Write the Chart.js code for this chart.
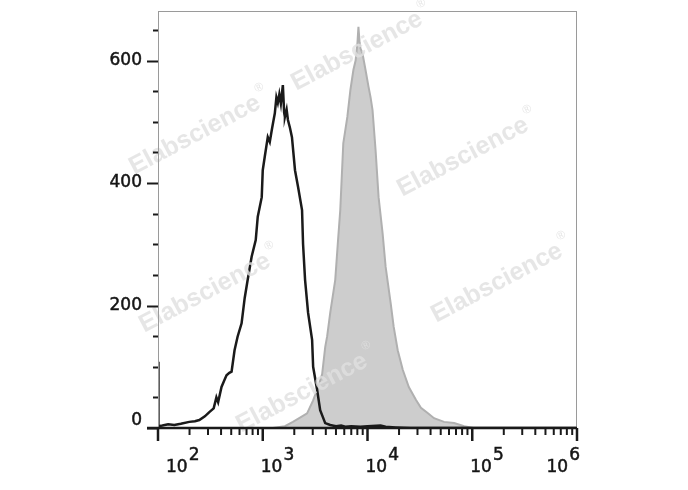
<!DOCTYPE html>
<html>
<head>
<meta charset="utf-8">
<script src="https://cdn.jsdelivr.net/npm/chart.js@4/dist/chart.umd.min.js"></script>
<style>
    html, body { margin: 0; padding: 0; background: #fff; }
    #wrap { width: 688px; height: 490px; position: relative; }
</style>
</head>
<body>
<div id="wrap"><canvas id="histChart" width="688" height="490"></canvas></div>
<script>
// control (unstained) histogram - black line
const ctrlX = [100, 101, 110, 125, 143, 165, 199, 225, 248, 280, 309, 340, 361, 375, 404, 430, 451, 480, 504,
    538, 575, 628, 672, 718, 784, 857, 896, 978, 1000, 1045, 1117, 1167, 1221, 1260, 1304, 1350, 1393, 1440,
    1489, 1556, 1600, 1628, 1690, 1740, 1820, 1900, 2032, 2172, 2372, 2426, 2535, 2710, 2959, 3027, 3306,
    3534, 3946, 4406, 5000, 5600, 6139, 7000, 8564, 10000, 13335, 14900, 18600, 25900, 1000000];
const ctrlY = [108, 3, 4, 6, 5, 7, 10, 11, 13, 19, 26, 32, 50, 42, 67, 78, 86, 90, 92,
    127, 149, 171, 212, 242, 280, 307, 345, 377, 421, 443, 475, 467, 487, 500, 514, 540, 531, 545,
    530, 560, 515, 508, 520, 503, 490, 475, 421, 394, 356, 300, 242, 188, 144, 100, 62,
    29, 8, 5, 3, 4, 2, 3, 2, 3, 4, 2, 1, 0, 0];

// stained histogram - grey filled
const stainX = [1247, 1628, 1941, 2270, 2650, 3027, 3381, 3690, 3946, 4121, 4406, 4921, 5200, 5496, 5873,
    6420, 6866, 7339, 7700, 8020, 8194, 8400, 8564, 8951, 9568, 10230, 10700, 11170, 11940, 12760, 13940,
    14900, 16640, 17790, 19430, 21710, 24790, 28970, 32370, 37790, 43150, 53810, 67140, 83760, 102300];
const stainY = [0, 3, 10, 17, 24, 45, 67, 88, 132, 150, 188, 242, 300, 356, 465,
    508, 552, 585, 600, 629, 655, 630, 620, 612, 585, 557, 540, 519, 454, 377, 318,
    263, 204, 165, 127, 95, 67, 46, 33, 24, 16, 10, 8, 3, 0];

const yMajor = [0, 200, 400, 600];
const xDecades = [2, 3, 4, 5, 6];

const watermarks = [[357, 51], [195, 135], [463, 157], [205, 293], [497, 283], [302, 393]];

const toPts = (xs, ys) => xs.map((v, i) => ({ x: v, y: ys[i] }));

// draws text a bit heavier, like the scanned labels
function boldText(ctx, txt, x, y) {
    ctx.fillText(txt, x, y);
    ctx.strokeText(txt, x, y);
}

const axesPlugin = {
    id: 'flowAxes',
    afterDatasetsDraw(chart) {
        const { ctx } = chart;
        // watermarks
        ctx.save();
        ctx.fillStyle = 'rgba(224,224,224,0.8)';
        watermarks.forEach(([cx, cy]) => {
            ctx.save();
            ctx.translate(cx, cy);
            ctx.rotate(-0.485);
            ctx.font = 'bold 25px "Liberation Sans", Arial, sans-serif';
            ctx.textBaseline = 'middle';
            const w = ctx.measureText('Elabscience').width;
            ctx.fillText('Elabscience', -w / 2, 0);
            ctx.font = '12px "Liberation Sans", Arial, sans-serif';
            ctx.fillText('®', w / 2 + 2, -12);
            ctx.restore();
        });
        ctx.restore();
    },
    afterDraw(chart) {
        const { ctx, chartArea: a, scales: { x, y } } = chart;
        ctx.save();
        // frame
        ctx.strokeStyle = '#9a9a9a';
        ctx.lineWidth = 1;
        ctx.strokeRect(a.left + 0.5, a.top + 0.5, a.right - a.left - 1, a.bottom - a.top);

        // bottom axis
        ctx.strokeStyle = '#1a1a1a';
        ctx.lineWidth = 2.5;
        ctx.beginPath();
        ctx.moveTo(a.left - 11, a.bottom);
        ctx.lineTo(a.right, a.bottom);
        ctx.stroke();

        // y ticks
        ctx.lineWidth = 2;
        for (let v = 0; v <= 650; v += 50) {
            const py = Math.round(y.getPixelForValue(v)) + 0.5;
            const len = v % 200 === 0 ? 11 : 5;
            ctx.beginPath();
            ctx.moveTo(a.left - len, py);
            ctx.lineTo(a.left, py);
            ctx.stroke();
        }
        ctx.fillStyle = '#151515';
        ctx.strokeStyle = '#151515';
        ctx.lineWidth = 0.5;
        ctx.font = '17px "DejaVu Sans", sans-serif';
        ctx.textAlign = 'right';
        ctx.textBaseline = 'middle';
        yMajor.forEach(v => {
            const py = y.getPixelForValue(v) - (v === 0 ? 7 : 0);
            boldText(ctx, String(v), a.left - 16, py);
        });

        // x ticks (log decades + minors)
        ctx.strokeStyle = '#1a1a1a';
        xDecades.forEach(d => {
            const px = x.getPixelForValue(Math.pow(10, d));
            ctx.lineWidth = 2.5;
            ctx.beginPath();
            ctx.moveTo(px, a.bottom);
            ctx.lineTo(px, a.bottom + 13);
            ctx.stroke();
            if (d < 6) {
                ctx.lineWidth = 2;
                for (let k = 2; k <= 9; k++) {
                    const mx = x.getPixelForValue(k * Math.pow(10, d));
                    ctx.beginPath();
                    ctx.moveTo(mx, a.bottom);
                    ctx.lineTo(mx, a.bottom + 7);
                    ctx.stroke();
                }
            }
        });

        // x labels 10^n
        ctx.textAlign = 'left';
        ctx.textBaseline = 'alphabetic';
        ctx.lineWidth = 0.5;
        ctx.strokeStyle = '#151515';
        ctx.font = '17px "DejaVu Sans", sans-serif';
        xDecades.forEach(d => {
            const bw = ctx.measureText('10').width;
            const ew = ctx.measureText(String(d)).width;
            const px = x.getPixelForValue(Math.pow(10, d));
            let left = px - 2;
            left = Math.max(left, a.left + 8);
            left = Math.min(left, a.right + 3 - bw - ew - 1);
            boldText(ctx, '10', left, 472);
            boldText(ctx, String(d), left + bw + 1, 460);
        });
        ctx.restore();
    }
};

new Chart(document.getElementById('histChart'), {
    type: 'line',
    data: {
        datasets: [{
            label: 'Control',
            data: toPts(ctrlX, ctrlY),
            borderColor: '#1a1a1a',
            borderWidth: 2.5,
            pointRadius: 0,
            fill: false,
            tension: 0,
            order: 0
        }, {
            label: 'Stained',
            data: toPts(stainX, stainY),
            borderColor: '#b0b0b0',
            backgroundColor: '#cdcdcd',
            borderWidth: 2,
            pointRadius: 0,
            fill: 'origin',
            tension: 0,
            order: 1
        }]
    },
    options: {
        responsive: false,
        animation: false,
        layout: { padding: { left: 0, right: 111, top: 11, bottom: 0 } },
        plugins: { legend: { display: false }, tooltip: { enabled: false } },
        scales: {
            x: {
                type: 'logarithmic',
                min: 100,
                max: 1000000,
                grid: { display: false },
                border: { display: false },
                ticks: { display: false },
                afterFit: s => { s.height = 62; }
            },
            y: {
                min: 0,
                max: 681,
                grid: { display: false },
                border: { display: false },
                ticks: { display: false },
                afterFit: s => { s.width = 158; }
            }
        }
    },
    plugins: [axesPlugin]
});
</script>
</body>
</html>
